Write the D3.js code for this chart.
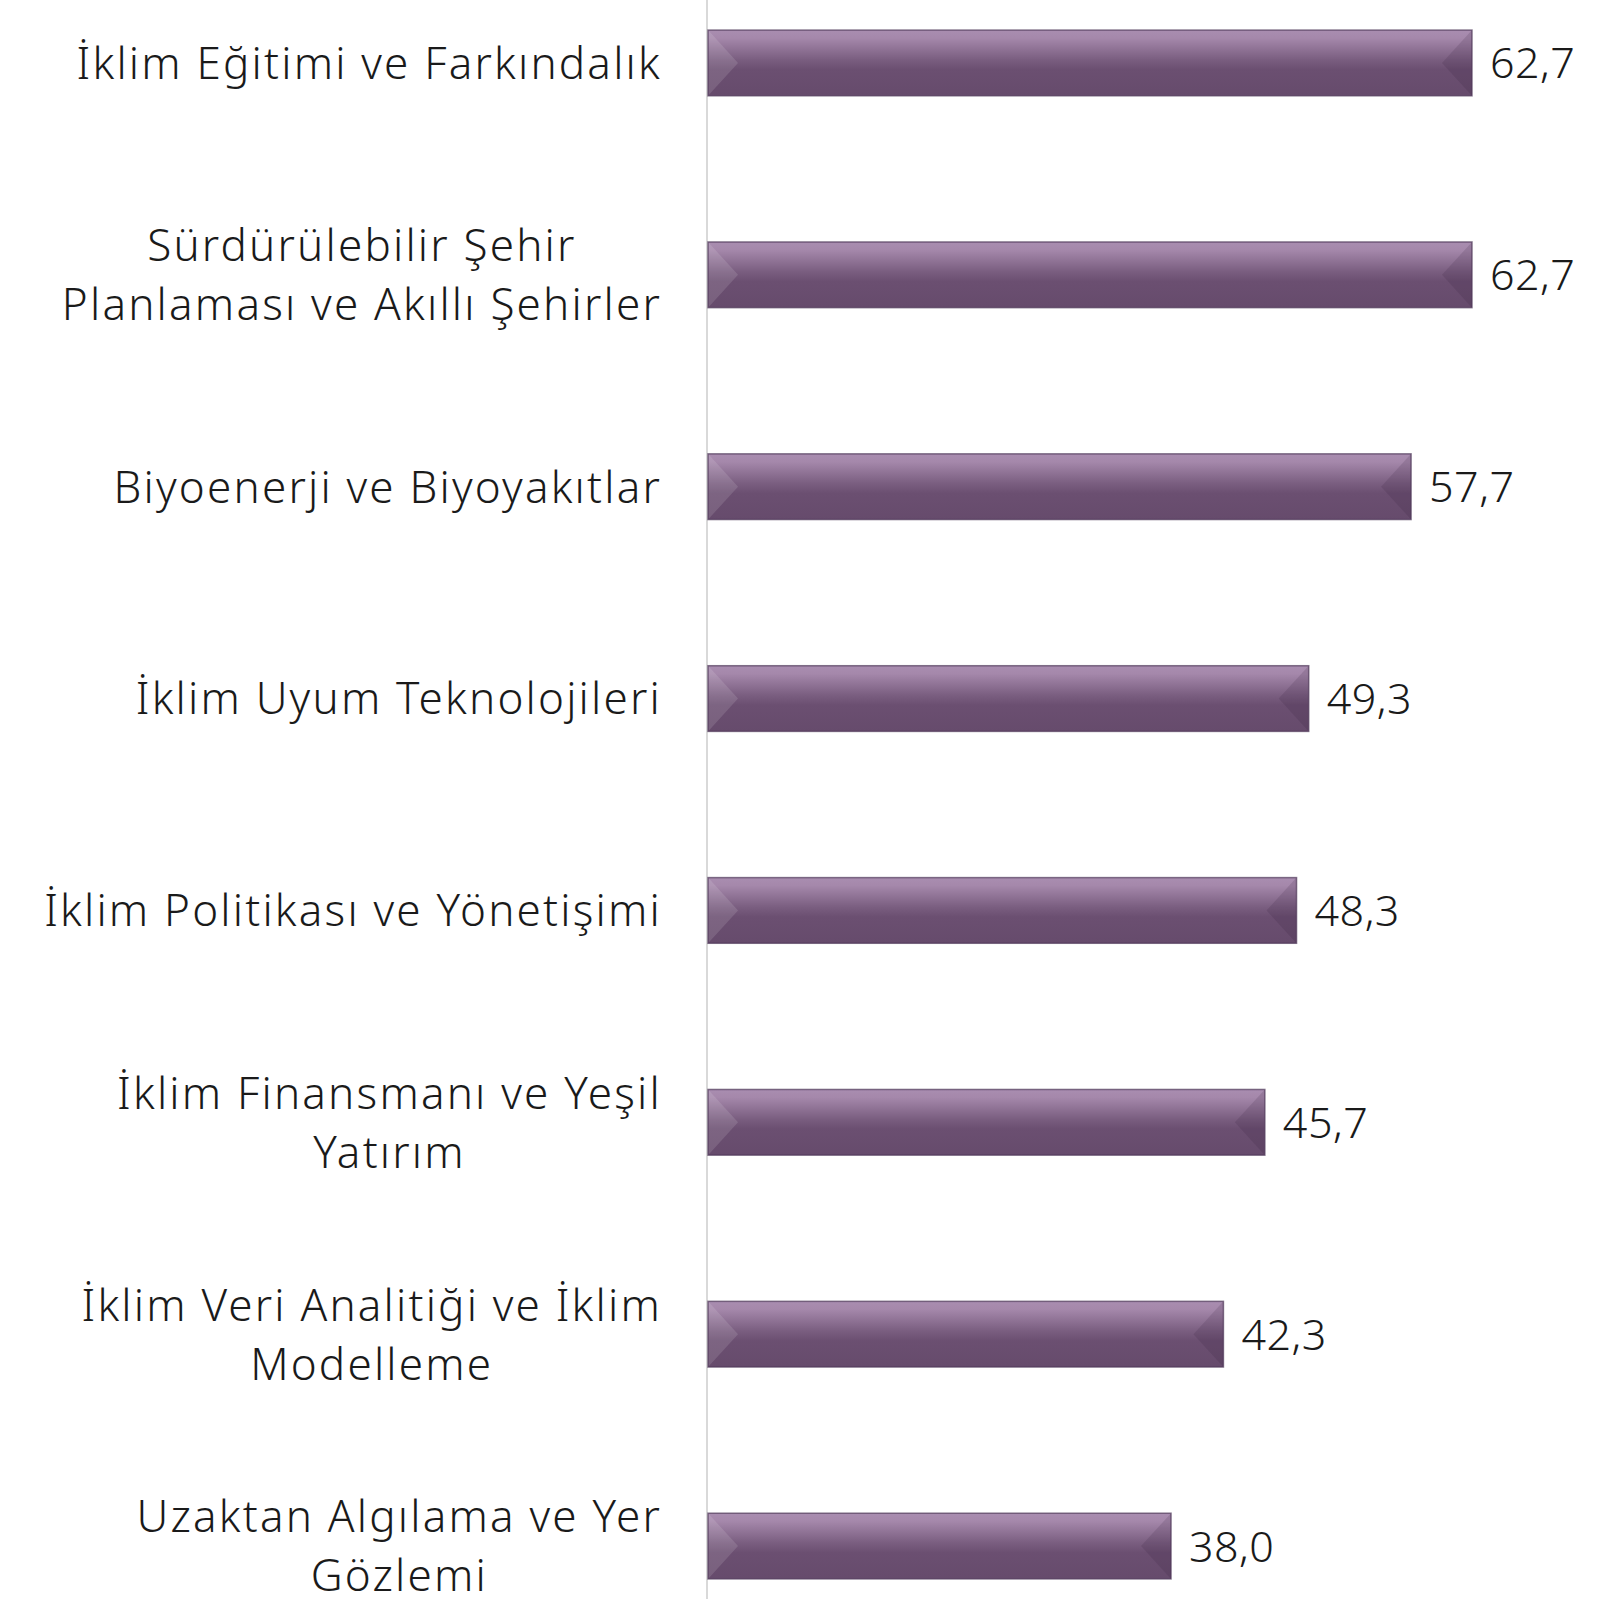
<!DOCTYPE html>
<html>
<head>
<meta charset="utf-8">
<script src="https://cdn.jsdelivr.net/npm/d3@7"></script>
<style>
  body { margin: 0; background: #fff; }
  text { font-family: "Noto Sans", sans-serif; fill: #1a1a1a; font-weight: 300; }
</style>
</head>
<body>
<div id="chart"></div>
<script>
// categories, top to bottom
var categories = [
  ["İklim Eğitimi ve Farkındalık"],
  ["Sürdürülebilir Şehir", "Planlaması ve Akıllı Şehirler"],
  ["Biyoenerji ve Biyoyakıtlar"],
  ["İklim Uyum Teknolojileri"],
  ["İklim Politikası ve Yönetişimi"],
  ["İklim Finansmanı ve Yeşil", "Yatırım"],
  ["İklim Veri Analitiği ve İklim", "Modelleme"],
  ["Uzaktan Algılama ve Yer", "Gözlemi"]
];
var values = [62.7, 62.7, 57.7, 49.3, 48.3, 45.7, 42.3, 38.0];
var valueLabels = ["62,7", "62,7", "57,7", "49,3", "48,3", "45,7", "42,3", "38,0"];

var width = 1613, height = 1599;
var x0 = 708;

var svg = d3.select("#chart").append("svg")
    .attr("width", width)
    .attr("height", height);

var x = d3.scaleLinear().domain([0, 62.7]).range([x0, 1472]);
var y = d3.scaleBand()
    .domain(d3.range(values.length))
    .range([-43, 1652])
    .paddingInner(0.69)
    .paddingOuter(0.345);

var defs = svg.append("defs");
var grad = defs.append("linearGradient")
    .attr("id", "barGrad")
    .attr("x1", 0).attr("y1", 0).attr("x2", 0).attr("y2", 1);
grad.append("stop").attr("offset", "0%").attr("stop-color", "#a98db0");
grad.append("stop").attr("offset", "12%").attr("stop-color", "#a588ab");
grad.append("stop").attr("offset", "45%").attr("stop-color", "#7a5e80");
grad.append("stop").attr("offset", "60%").attr("stop-color", "#6b4f71");
grad.append("stop").attr("offset", "100%").attr("stop-color", "#664b6c");

// axis line
svg.append("line")
    .attr("x1", x0 - 1).attr("x2", x0 - 1)
    .attr("y1", 0).attr("y2", height)
    .attr("stroke", "#d9d9d9")
    .attr("stroke-width", 2);

var bars = svg.selectAll("g.bar")
    .data(values)
    .enter().append("g")
    .attr("class", "bar");

var bev = 30;

bars.append("rect")
    .attr("x", x(0))
    .attr("y", function(d, i) { return y(i); })
    .attr("width", function(d) { return x(d) - x(0); })
    .attr("height", y.bandwidth())
    .attr("fill", "url(#barGrad)");

// left bevel (lighter)
bars.append("polygon")
    .attr("points", function(d, i) {
      var t = y(i), b = t + y.bandwidth(), m = t + y.bandwidth() / 2;
      return [[x(0), t], [x(0) + bev, m], [x(0), b]].join(" ");
    })
    .attr("fill", "#ffffff")
    .attr("opacity", 0.12);

// right bevel (darker)
bars.append("polygon")
    .attr("points", function(d, i) {
      var t = y(i), b = t + y.bandwidth(), m = t + y.bandwidth() / 2;
      return [[x(d), t], [x(d) - bev, m], [x(d), b]].join(" ");
    })
    .attr("fill", "#2a1530")
    .attr("opacity", 0.14);

bars.append("rect")
    .attr("x", x(0))
    .attr("y", function(d, i) { return y(i); })
    .attr("width", function(d) { return x(d) - x(0); })
    .attr("height", y.bandwidth())
    .attr("fill", "none")
    .attr("stroke", "#50395a")
    .attr("stroke-opacity", 0.7)
    .attr("stroke-width", 1.5);

// value labels
svg.selectAll("text.val")
    .data(values)
    .enter().append("text")
    .attr("class", "val")
    .attr("x", function(d) { return x(d) + 18; })
    .attr("y", function(d, i) { return y(i) + y.bandwidth() / 2; })
    .attr("dy", "0.36em")
    .style("font-size", "43px")
    .style("letter-spacing", "0.5px")
    .text(function(d, i) { return valueLabels[i]; });

// category labels
var lineH = 59;
var cat = svg.selectAll("text.cat")
    .data(categories)
    .enter().append("text")
    .attr("class", "cat")
    .attr("text-anchor", "middle")
    .style("font-size", "44px")
    .style("letter-spacing", "2.2px")
    .attr("y", function(d, i) {
      return y(i) + y.bandwidth() / 2 - (d.length - 1) * lineH / 2;
    });

cat.each(function(lines, i) {
  var t = d3.select(this);
  lines.forEach(function(l, k) {
    t.append("tspan")
      .attr("x", 370)
      .attr("dy", k === 0 ? "0.36em" : lineH)
      .text(l);
  });
});

// right edge of the widest line at 662, lines centred on each other
cat.each(function(lines) {
  var t = d3.select(this);
  var widths = [];
  t.selectAll("tspan").each(function() { widths.push(this.getComputedTextLength()); });
  var maxW = d3.max(widths);
  t.selectAll("tspan").attr("x", 662 - maxW / 2);
});
</script>
</body>
</html>
